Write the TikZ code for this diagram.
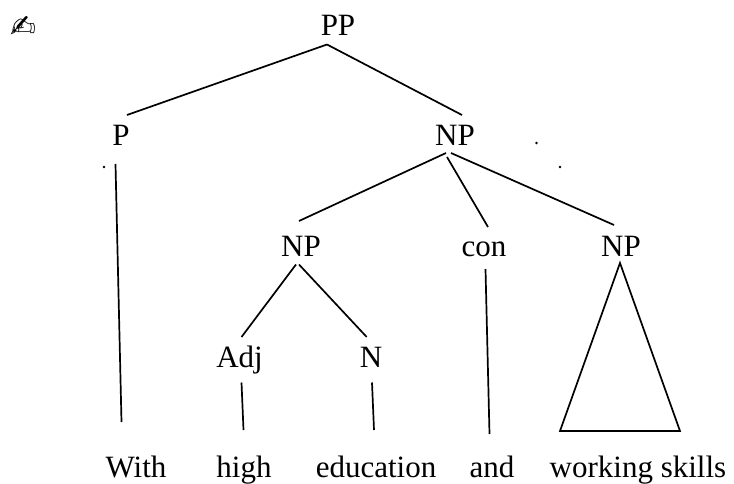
\documentclass[tikz,border=0pt]{standalone}
\usepackage{fontspec}
\setmainfont{Liberation Serif}
\newfontfamily\symfont{DejaVu Sans}
\tikzset{
  lbl/.style={anchor=base,inner sep=0pt,font=\fontsize{31}{31}\selectfont},
  edge/.style={draw=black,line width=1.7pt},
  speck/.style={fill=black,circle,inner sep=0pt,minimum size=2.6pt}
}
\begin{document}
\begin{tikzpicture}[x=1pt,y=-1pt]
\useasboundingbox (0,0) rectangle (734,484);
\node[anchor=center,inner sep=0pt,font=\symfont\fontsize{31}{31}\selectfont] (pen) at (23,27) {✍};
\node[lbl] (pp) at (338,36) {PP};
\node[lbl] (p) at (121,146) {P};
\node[lbl] (np) at (455,146) {NP};
\node[lbl] (npa) at (301,256) {NP};
\node[lbl] (con) at (484,256) {con};
\node[lbl] (npb) at (621,256) {NP};
\node[lbl] (adj) at (239.5,367) {Adj};
\node[lbl] (n) at (371,367) {N};
\node[lbl] (with) at (136,477) {With};
\node[lbl] (high) at (244,477) {high};
\node[lbl] (edu) at (376,477) {education};
\node[lbl] (and) at (492,477) {and};
\node[lbl] (ws) at (638,477) {working skills};
\node[speck] (d1) at (104,167) {};
\node[speck] (d2) at (536.5,143) {};
\node[speck] (d3) at (560,167) {};
\draw[edge] ([shift={(-11,8.5)}]pp.base) -- ([shift={(6,-31)}]p.base);
\draw[edge] ([shift={(-11,8.5)}]pp.base) -- ([shift={(7,-31)}]np.base);
\draw[edge] ([shift={(-9,7)}]np.base) -- ([shift={(-2,-35)}]npa.base);
\draw[edge] ([shift={(-8,11)}]np.base) -- ([shift={(4,-29)}]con.base);
\draw[edge] ([shift={(-4,7)}]np.base) -- ([shift={(-7,-31)}]npb.base);
\draw[edge] ([shift={(-5.5,18)}]p.base) -- ([shift={(-14.5,-55)}]with.base);
\draw[edge] ([shift={(-5,8.5)}]npa.base) -- ([shift={(2,-30)}]adj.base);
\draw[edge] ([shift={(-2,8.5)}]npa.base) -- ([shift={(-4.3,-30)}]n.base);
\draw[edge] ([shift={(2,15.5)}]adj.base) -- ([shift={(-0.5,-47)}]high.base);
\draw[edge] ([shift={(1,15.5)}]n.base) -- ([shift={(-2,-47)}]edu.base);
\draw[edge] ([shift={(1.5,13)}]con.base) -- ([shift={(-2.5,-43)}]and.base);
\draw[edge,line join=miter] ([shift={(-1,7)}]npb.base) -- ([shift={(-78,-46)}]ws.base) -- ([shift={(42,-46)}]ws.base) -- cycle;
\end{tikzpicture}
\end{document}
